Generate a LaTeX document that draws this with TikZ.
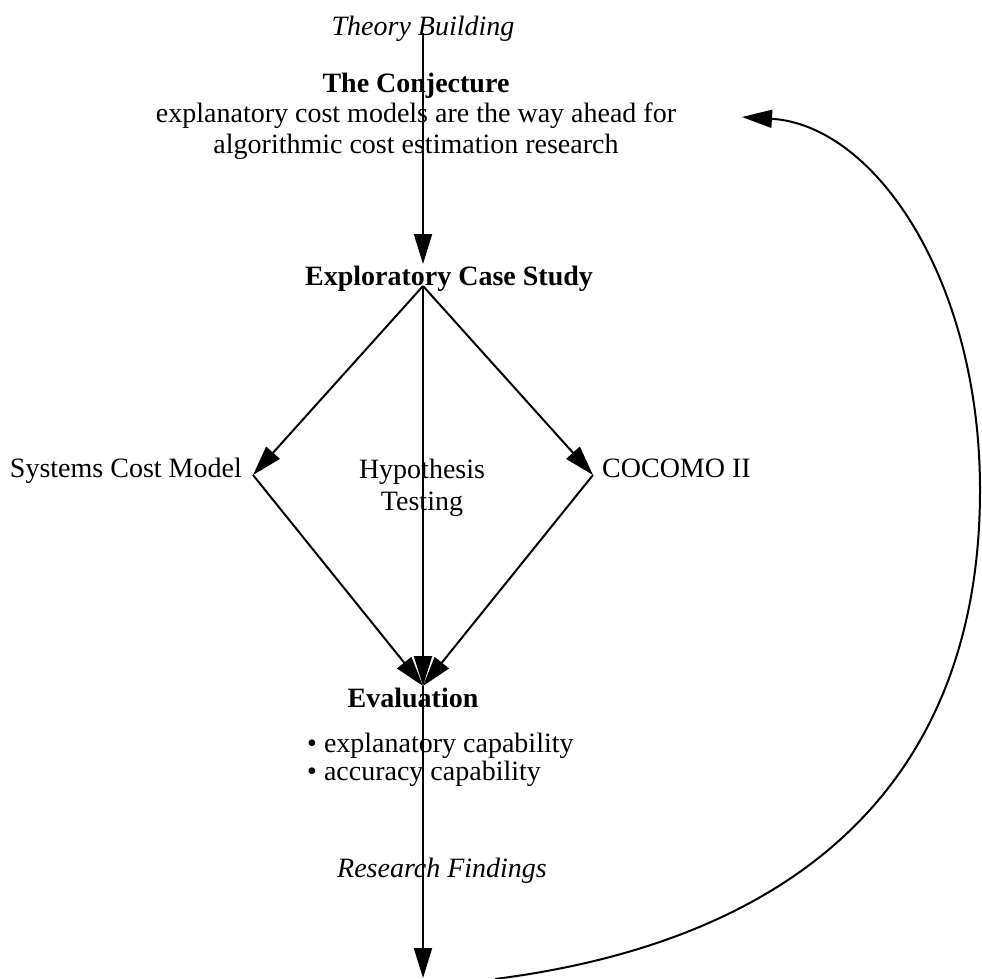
\documentclass[tikz,border=0pt]{standalone}
\usepackage{fontspec}
\setmainfont{Liberation Serif}
\usetikzlibrary{arrows.meta}
\begin{document}
\begin{tikzpicture}[x=1pt,y=-1pt,
  lbl/.style={inner sep=0pt, font=\fontsize{28}{30}\selectfont},
  edge/.style={line width=2pt, -{Triangle[length=30pt,width=18pt]}}]
\useasboundingbox (0,0) rectangle (982,978);
% texts
\node[lbl, anchor=base, font=\fontsize{28}{30}\selectfont\itshape] (tb) at (423,35) {Theory Building};
\node[lbl, anchor=base, font=\fontsize{28}{30.5}\selectfont] (conj) at (416,92) {\begin{tabular}[t]{@{}c@{}}\textbf{The Conjecture}\\explanatory cost models are the way ahead for\\algorithmic cost estimation research\end{tabular}};
\node[lbl, anchor=base, font=\fontsize{28}{30}\selectfont\bfseries] (ecs) at (449,285) {Exploratory Case Study};
\node[lbl, anchor=base east] (scmtext) at (242,477) {Systems Cost Model};
\node[lbl, anchor=base west] (coctext) at (602,477) {COCOMO II};
\node[lbl, anchor=base, font=\fontsize{28}{32}\selectfont] (hyp) at (422,478) {\begin{tabular}[t]{@{}c@{}}Hypothesis\\Testing\end{tabular}};
\node[lbl, anchor=base, font=\fontsize{28}{30}\selectfont\bfseries] (eval) at (413,707) {Evaluation};
\node[lbl, anchor=base west, font=\fontsize{28}{28}\selectfont] (items) at (307,752) {\begin{tabular}[t]{@{}l@{}}• explanatory capability\\• accuracy capability\end{tabular}};
\node[lbl, anchor=base, font=\fontsize{28}{30}\selectfont\itshape] (rf) at (442,877) {Research Findings};
% connector points
\coordinate (t0) at (423,33);
\coordinate (exTop) at (423,264);
\coordinate (exBot) at (423,286);
\coordinate (scm) at (253,475);
\coordinate (coc) at (593,475);
\coordinate (evTop) at (423,686);
\coordinate (bot) at (423,978);
\coordinate (cs) at (495,979);
\coordinate (cm) at (980,490);
\coordinate (ce) at (742,117);
% connectors
\draw[edge] (t0) -- (exTop);
\draw[edge] (exBot) -- (scm);
\draw[edge] (exBot) -- (coc);
\draw[edge] (exBot) -- (evTop);
\draw[edge] (scm) -- (evTop);
\draw[edge] (coc) -- (evTop);
\draw[edge] (evTop) -- (bot);
\draw[edge] (cs) .. controls (800,940) and (980,780) .. (cm)
  .. controls (980,280) and (875,125) .. (ce);
\end{tikzpicture}
\end{document}
